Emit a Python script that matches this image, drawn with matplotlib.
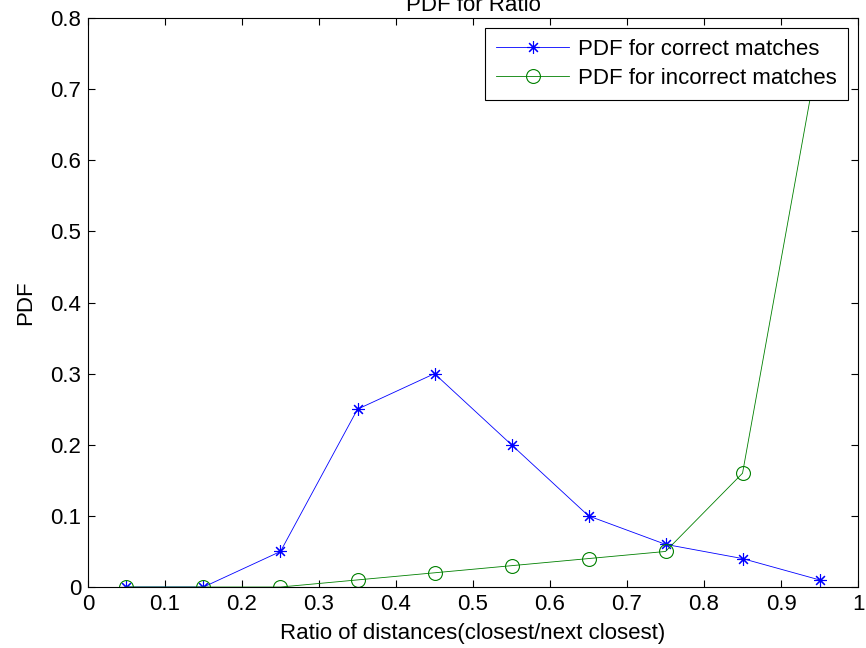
import matplotlib.pyplot as plt

# datos
ratio = [0.05, 0.15, 0.25, 0.35, 0.45, 0.55, 0.65, 0.75, 0.85, 0.95]
pdf_correctas = [0.0, 0.0, 0.05, 0.25, 0.30, 0.20, 0.10, 0.06, 0.04, 0.01]
pdf_incorrectas = [0.0, 0.0, 0.0, 0.01, 0.02, 0.03, 0.04, 0.05, 0.16, 0.76]

xticks = [0, 0.1, 0.2, 0.3, 0.4, 0.5, 0.6, 0.7, 0.8, 0.9, 1]
xtick_labels = ["0", "0.1", "0.2", "0.3", "0.4", "0.5", "0.6", "0.7", "0.8", "0.9", "1"]
yticks = [0, 0.1, 0.2, 0.3, 0.4, 0.5, 0.6, 0.7, 0.8]
ytick_labels = ["0", "0.1", "0.2", "0.3", "0.4", "0.5", "0.6", "0.7", "0.8"]

plt.rcParams["font.family"] = ["Liberation Sans", "DejaVu Sans"]

fig = plt.figure(figsize=(8.66, 6.48), dpi=100)
ax = fig.add_axes([0.1016, 0.0941, 0.8892, 0.8781])

ax.plot(ratio, pdf_correctas, color="blue", linewidth=0.6,
        marker=(8, 2, 0), markersize=9, markeredgewidth=0.8,
        label="PDF for correct matches")
ax.plot(ratio, pdf_incorrectas, color="#008000", linewidth=0.6,
        marker="o", markersize=10, markerfacecolor="none", markeredgewidth=0.8,
        label="PDF for incorrect matches")

ax.set_xlim(0, 1)
ax.set_ylim(0, 0.8)
ax.set_xticks(xticks)
ax.set_xticklabels(xtick_labels)
ax.set_yticks(yticks)
ax.set_yticklabels(ytick_labels)
ax.tick_params(direction="in", length=5, width=0.8, top=True, right=True,
               labelsize=16, pad=5)
for s in ax.spines.values():
    s.set_linewidth(0.8)

ax.set_title("PDF for Ratio", fontsize=16, pad=5)
ax.set_xlabel("Ratio of distances(closest/next closest)", fontsize=16, labelpad=6)
ax.set_ylabel("PDF", fontsize=16, labelpad=10)

leg = ax.legend(loc="upper right", fontsize=16, fancybox=False, framealpha=1,
                edgecolor="black", borderaxespad=0.45, handlelength=3.3,
                handletextpad=0.4, borderpad=0.5, labelspacing=0.35)
leg.get_frame().set_linewidth(0.8)

fig.savefig("out.png", dpi=100)
